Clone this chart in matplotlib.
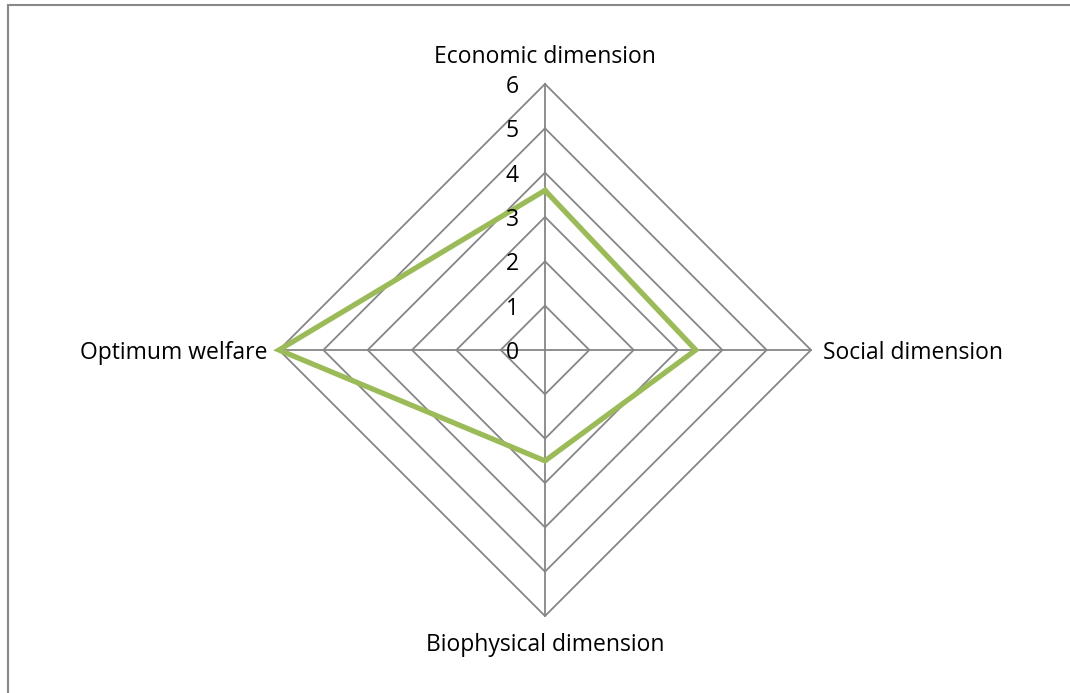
import numpy as np
import matplotlib
matplotlib.use("Agg")
import matplotlib.pyplot as plt
from matplotlib.patches import Rectangle

categories = ["Economic dimension", "Social dimension", "Biophysical dimension", "Optimum welfare"]
values = [3.6, 3.4, 2.5, 6.0]
tick_values = [0, 1, 2, 3, 4, 5, 6]
rmax = 6

W, H = 1070, 693
cx, cy = 545, 350
scale = 266 / rmax  # pixels per unit

plt.rcParams['font.family'] = ['Open Sans', 'DejaVu Sans']
fig = plt.figure(figsize=(W / 100, H / 100), dpi=100)
ax = fig.add_axes([0, 0, 1, 1])
ax.set_xlim(-cx / scale, (W - cx) / scale)
ax.set_ylim(-(H - cy) / scale, cy / scale)
ax.axis('off')

angles = np.deg2rad([90, 0, -90, 180])
grid_c = '#868686'

# polygon gridlines
for r in tick_values[1:]:
    xs = np.append(r * np.cos(angles), r * np.cos(angles[0]))
    ys = np.append(r * np.sin(angles), r * np.sin(angles[0]))
    ax.plot(xs, ys, color=grid_c, lw=1.3, zorder=1)
# spokes
for a in angles:
    ax.plot([0, rmax * np.cos(a)], [0, rmax * np.sin(a)], color=grid_c, lw=1.3, zorder=1)

# data
v = np.array(values)
xs = np.append(v * np.cos(angles), v[0] * np.cos(angles[0]))
ys = np.append(v * np.sin(angles), v[0] * np.sin(angles[0]))
ax.plot(xs, ys, color='#9BBB59', lw=3.8, zorder=3, solid_joinstyle='miter')

fs = 16.5
dy = -3 / scale
# tick labels
for t in tick_values:
    ax.text(-26 / scale, t + dy, str(t), ha='right', va='center', fontsize=fs, color='black', zorder=4)

# category labels
ax.text(0, rmax + 27 / scale, categories[0], ha='center', va='center', fontsize=fs)
ax.text(rmax + 12 / scale, dy, categories[1], ha='left', va='center', fontsize=fs)
ax.text(0, -rmax - 29 / scale, categories[2], ha='center', va='center', fontsize=fs)
ax.text(-rmax - 12 / scale, dy, categories[3], ha='right', va='center', fontsize=fs)

# outer frame
fig.patches.append(Rectangle((7.5 / W, -0.1), 1.2, (H - 5.5) / H + 0.1,
                             transform=fig.transFigure, fill=False,
                             edgecolor='#888888', lw=1.5))

fig.savefig('out.png', dpi=100)
